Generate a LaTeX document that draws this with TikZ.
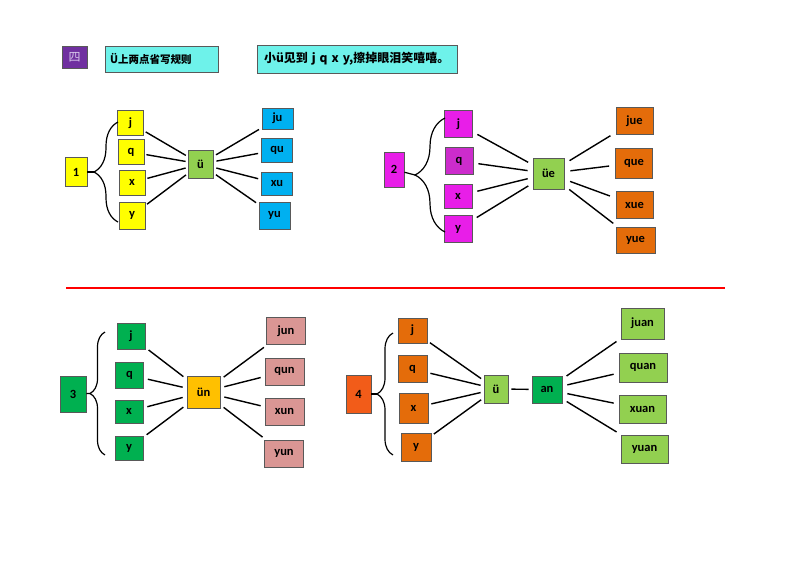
\documentclass[tikz,border=0pt]{standalone}
\usepackage{fontspec}
\setmainfont{Carlito}
\newfontfamily\cjk{Noto Sans CJK SC}
\usetikzlibrary{decorations.pathreplacing}
\definecolor{purp}{HTML}{7030A0}
\definecolor{lav}{HTML}{D8C8EC}
\definecolor{aqua}{HTML}{6EF2EA}
\definecolor{yel}{HTML}{FFFF00}
\definecolor{lime}{HTML}{92D050}
\definecolor{sky}{HTML}{00B0F0}
\definecolor{mag}{HTML}{E81EE8}
\definecolor{magdk}{HTML}{CC2CCC}
\definecolor{orng}{HTML}{E46C0A}
\definecolor{grn}{HTML}{00B050}
\definecolor{gold}{HTML}{FFC000}
\definecolor{rose}{HTML}{DA9694}
\definecolor{redor}{HTML}{F25C19}
\tikzset{
  cell/.style={draw=black!65, line width=0.9pt, inner sep=0pt, font=\fontsize{12.5}{12.5}\selectfont\bfseries},
  hdr/.style={draw=black!65, line width=0.9pt, inner ysep=0pt},
  link/.style={line width=1.4pt, shorten <=#1, shorten >=#1},
  link/.default=3pt,
  curly/.style={decorate, decoration={brace, amplitude=#1}, line width=1.2pt},
  % section 1
  oneL/.style={cell, fill=yel, minimum width=26pt, minimum height=25pt},
  oneR/.style={cell, fill=sky, minimum width=31pt, minimum height=24pt},
  % section 2
  twoL/.style={cell, fill=mag, minimum width=28pt, minimum height=27pt},
  twoR/.style={cell, fill=orng, minimum width=37pt, minimum height=27pt},
  % section 3
  thrL/.style={cell, fill=grn, minimum width=28pt, minimum height=26pt},
  thrR/.style={cell, fill=rose, minimum width=39pt, minimum height=27pt},
  % section 4
  fouL/.style={cell, fill=orng, minimum width=29pt, minimum height=27pt},
  fouR/.style={cell, fill=lime, minimum width=46pt, minimum height=29pt},
}
\begin{document}
\begin{tikzpicture}[x=1pt, y=-1pt]
\useasboundingbox (0,0) rectangle (800,566);
% title row
\node[hdr, fill=purp, minimum width=25pt, minimum height=22pt, inner xsep=0pt, font=\cjk\fontsize{12}{12}\selectfont, text=lav] (four) at (74.5,57) {四};
\node[hdr, fill=aqua, text width=103pt, inner xsep=5pt, minimum height=26pt, align=left, font=\cjk\bfseries\fontsize{10.5}{10.5}\selectfont] (rule) at (161.5,59) {Ü上两点省写规则};
\node[hdr, fill=aqua, text width=186pt, inner xsep=7pt, minimum height=28pt, align=left, font=\cjk\bfseries\fontsize{12}{12}\selectfont] (rhyme) at (357,59) {\mbox{小ü见到 j q x y,擦掉眼泪笑嘻嘻。}};

% 1
\node[cell, fill=yel, minimum width=22pt, minimum height=29pt] (n1) at (76,172) {1};
\node[oneL] (j1) at (130.5,123) {j};
\node[oneL] (q1) at (131,152) {q};
\node[oneL] (x1) at (132,182.5) {x};
\node[oneL, minimum height=27pt] (y1) at (132,215.5) {y};
\node[cell, fill=lime, minimum width=25pt, minimum height=28pt] (v1) at (200.5,164) {ü};
\node[oneR, minimum height=21pt] (ju) at (277.5,118.5) {ju};
\node[oneR] (qu) at (277,150) {qu};
\node[oneR, minimum height=23pt] (xu) at (277,183.5) {xu};
\node[oneR, minimum height=27pt] (yu) at (274.5,215.5) {yu};
\draw[curly=24pt] (118,222) -- (118,122);
\coordinate (t1) at (94,172);
\draw[line width=1.2pt] (n1) -- (t1);
\draw[link=2pt] (j1) -- (v1);
\draw[link=2pt] (q1) -- (v1);
\draw[link=2pt] (x1) -- (v1);
\draw[link=2pt] (y1) -- (v1);
\draw[link=3pt] (v1) -- (ju);
\draw[link=3pt] (v1) -- (qu);
\draw[link=3pt] (v1) -- (xu);
\draw[link=3pt] (v1) -- (yu);

% 2
\node[cell, fill=mag, minimum width=20pt, minimum height=35pt] (n2) at (394,169.5) {2};
\node[twoL] (j2) at (458.5,124) {j};
\node[twoL, fill=magdk] (q2) at (459,161) {q};
\node[twoL, minimum height=24pt] (x2) at (458,196) {x};
\node[twoL] (y2) at (458,229) {y};
\node[cell, fill=lime, minimum width=31pt, minimum height=31pt] (v2) at (548.5,173.5) {üe};
\node[twoR] (jue) at (634.5,121) {jue};
\node[twoR, minimum height=30pt] (que) at (634,163) {que};
\node[twoR] (xue) at (634.5,205) {xue};
\node[twoR, minimum width=39pt, minimum height=26pt] (yue) at (635.5,240.5) {yue};
\draw[curly=30pt] (445,232) -- (445,118);
\coordinate (t2) at (415,175);
\draw[line width=1.2pt] (n2) -- (t2);
\draw[link=5pt] (j2) -- (v2);
\draw[link=5pt] (q2) -- (v2);
\draw[link=5pt] (x2) -- (v2);
\draw[link=5pt] (y2) -- (v2);
\draw[link=6pt] (v2) -- (jue);
\draw[link=6pt] (v2) -- (que);
\draw[link=6pt] (v2) -- (xue);
\draw[link=6pt] (v2) -- (yue);

% separator
\draw[red, line width=1.4pt] (66,288) -- (725,288);

% 3
\node[cell, fill=grn, minimum width=26pt, minimum height=36pt] (n3) at (73,394) {3};
\node[thrL] (j3) at (131,336.5) {j};
\node[thrL] (q3) at (129.5,375) {q};
\node[thrL, minimum height=23pt] (x3) at (129,411.5) {x};
\node[thrL, minimum height=24pt] (y3) at (129,448) {y};
\node[cell, fill=gold, minimum width=33pt, minimum height=32pt] (v3) at (203.5,392) {ün};
\node[thrR] (jun) at (286,331) {jun};
\node[thrR] (qun) at (284.5,371.5) {qun};
\node[thrR] (xun) at (284.5,411.5) {xun};
\node[thrR] (yun) at (284,453.5) {yun};
\draw[curly=15pt] (105,455) -- (105,332);
\coordinate (t3) at (90,393.5);
\draw[line width=1.2pt] (n3) -- (t3);
\draw[link=4pt] (j3) -- (v3);
\draw[link=4pt] (q3) -- (v3);
\draw[link=4pt] (x3) -- (v3);
\draw[link=4pt] (y3) -- (v3);
\draw[link=4pt] (v3) -- (jun);
\draw[link=4pt] (v3) -- (qun);
\draw[link=4pt] (v3) -- (xun);
\draw[link=4pt] (v3) -- (yun);

% 4
\node[cell, fill=redor, minimum width=25pt, minimum height=38pt] (n4) at (358.5,394) {4};
\node[fouL, minimum height=25pt] (j4) at (412.5,330.5) {j};
\node[fouL] (q4) at (412.5,369) {q};
\node[fouL, minimum height=30pt] (x4) at (413.5,408) {x};
\node[fouL, minimum width=30pt, minimum height=28pt] (y4) at (416,447) {y};
\node[cell, fill=lime, minimum width=24pt, minimum height=28pt] (v4) at (496,389) {ü};
\node[cell, fill=grn, minimum width=30pt, minimum height=27pt] (an) at (547,389.5) {an};
\node[fouR, minimum width=43pt, minimum height=31pt] (juan) at (642.5,323.5) {juan};
\node[fouR, minimum width=48pt] (quan) at (643,367.5) {quan};
\node[fouR, minimum width=47pt, minimum height=28pt] (xuan) at (642.5,409) {xuan};
\node[fouR, minimum width=47pt, minimum height=28pt] (yuan) at (644.5,449) {yuan};
\draw[curly=16pt] (393,455) -- (393,333);
\coordinate (t4) at (377,394);
\draw[line width=1.2pt] (n4) -- (t4);
\draw[link=3pt] (j4) -- (v4);
\draw[link=3pt] (q4) -- (v4);
\draw[link=3pt] (x4) -- (v4);
\draw[link=3pt] (y4) -- (v4);
\draw[link=3pt] (v4) -- (an);
\draw[link=5pt] (an) -- (juan);
\draw[link=5pt] (an) -- (quan);
\draw[link=5pt] (an) -- (xuan);
\draw[link=5pt] (an) -- (yuan);
\end{tikzpicture}
\end{document}
